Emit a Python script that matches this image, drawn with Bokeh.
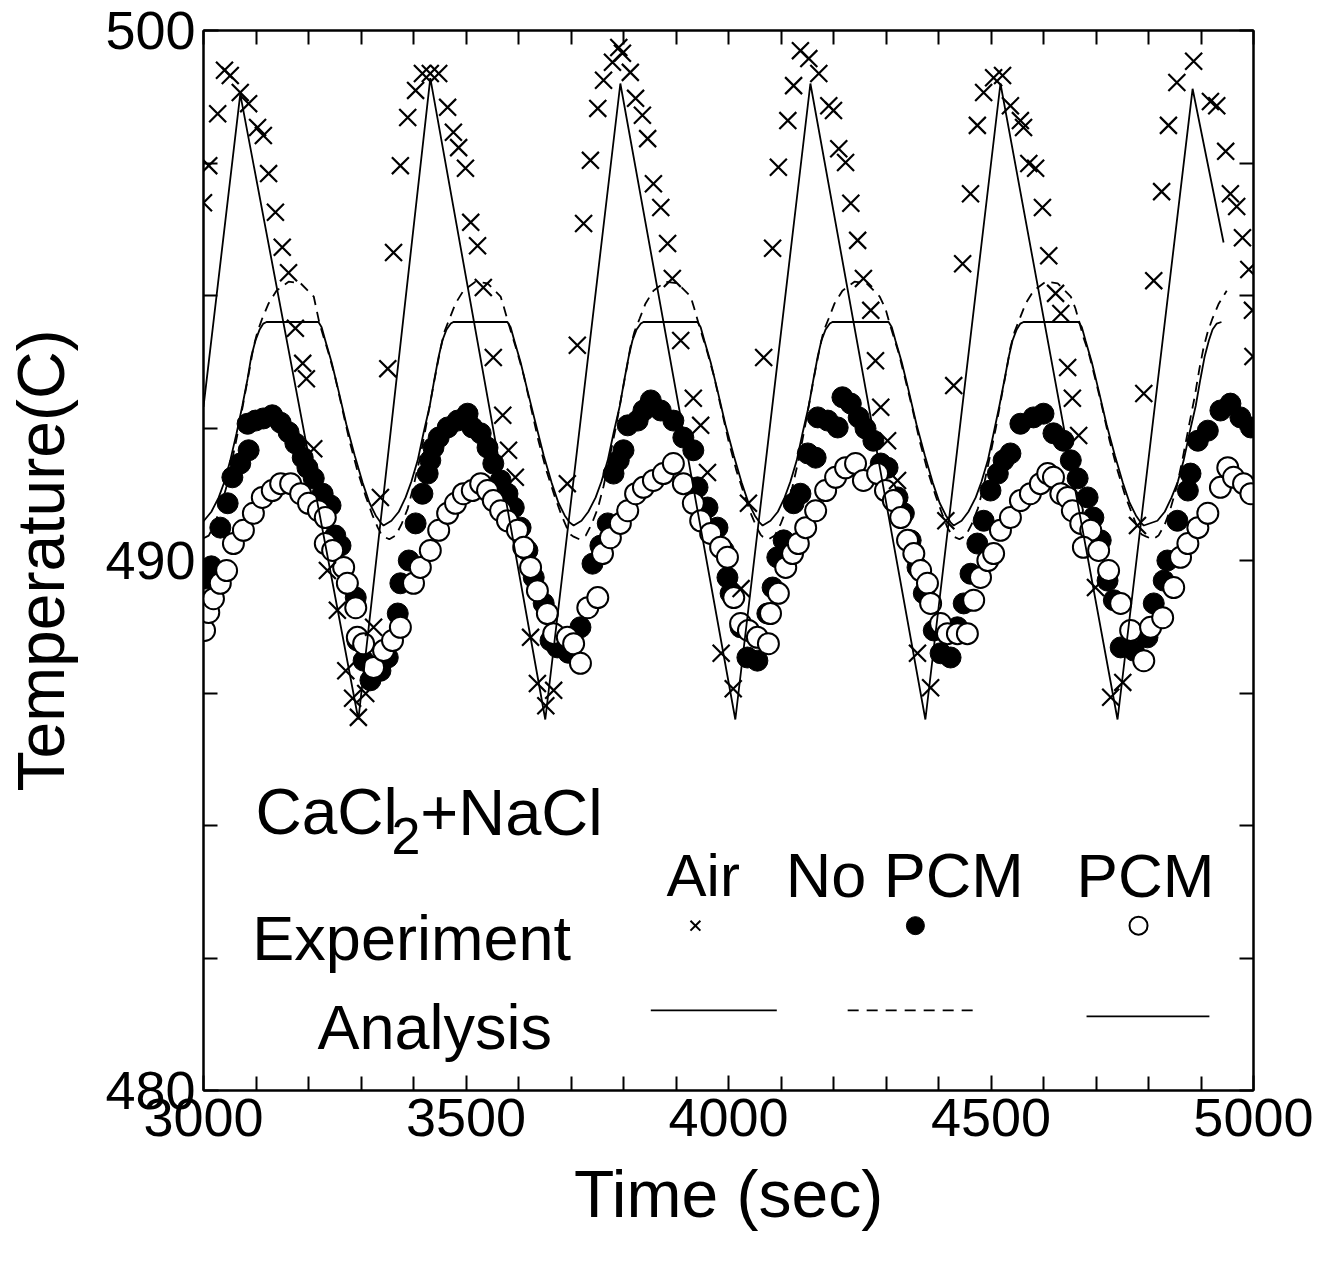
from bokeh.plotting import figure
from bokeh.models import Range1d, LinearAxis, FixedTicker, Label
from bokeh.embed import file_html
from bokeh.resources import INLINE

# ---------------- data ----------------
air_exp_t = [3000, 3010, 3027, 3040, 3051, 3070, 3086, 3103, 3114, 3124, 3137, 3150, 3162, 3175, 3189, 3196, 3210,
             3236, 3255, 3271, 3284, 3295, 3309, 3324, 3337, 3351,
             3362, 3375, 3389, 3404, 3417, 3432, 3448, 3465, 3476, 3486, 3499, 3509, 3522, 3533, 3552, 3570, 3581, 3594,
             3623, 3636, 3652, 3667, 3693, 3712,
             3724, 3737, 3751, 3762, 3779, 3791, 3798, 3813, 3823, 3836, 3846, 3857, 3871, 3884, 3893, 3909, 3933, 3947, 3960,
             3986, 4009, 4024, 4038,
             4067, 4084, 4095, 4113, 4124, 4137, 4153, 4172, 4191, 4200, 4210, 4223, 4233, 4246, 4257, 4271, 4280, 4290, 4303, 4322,
             4360, 4385, 4414,
             4429, 4446, 4461, 4474, 4486, 4505, 4522, 4537, 4556, 4562, 4572, 4585, 4598, 4610, 4623, 4633, 4646, 4655, 4667,
             4699, 4728, 4751, 4779, 4791,
             4810, 4825, 4838, 4854, 4886, 4918, 4930, 4947, 4956, 4968, 4979, 4991, 4998, 4999]
air_exp_T = [496.75, 497.45, 498.43, 499.25, 499.15, 498.83, 498.62, 498.17, 498.02, 497.30, 496.57, 495.91, 495.43, 494.38, 493.72, 493.43, 492.11,
             489.81, 489.06, 487.92, 487.40, 487.04, 487.49, 488.74, 491.19, 493.62,
             495.81, 497.45, 498.36, 498.87, 499.19, 499.19, 499.19, 498.55, 498.08, 497.79, 497.40, 496.38, 495.94, 495.15, 493.83, 492.74, 492.08, 491.57,
             488.55, 487.68, 487.26, 487.55, 491.45, 494.06,
             496.36, 497.55, 498.53, 499.06, 499.40, 499.68, 499.57, 499.21, 498.72, 498.40, 497.96, 497.11, 496.66, 495.98, 495.32, 494.15, 493.06, 492.55, 491.66,
             488.25, 487.58, 489.47, 491.08,
             493.83, 495.89, 497.42, 498.30, 498.96, 499.62, 499.47, 499.19, 498.58, 498.49, 497.77, 497.51, 496.74, 496.04, 495.32, 494.72, 493.77, 492.89, 492.26, 491.51,
             488.25, 487.60, 490.75,
             493.30, 495.60, 496.92, 498.21, 498.83, 499.11, 499.15, 498.58, 498.30, 498.17, 497.49, 497.40, 496.66, 495.75, 495.04, 494.66, 493.64, 493.06, 492.36,
             489.49, 487.42, 487.70, 490.66, 493.15,
             495.28, 496.96, 498.21, 499.02, 499.42, 498.66, 498.58, 497.72, 496.92, 496.68, 496.09, 495.49, 494.72, 493.85]

nopcm_exp_t = [3004, 3015, 3032, 3046, 3055, 3070, 3086, 3084, 3099, 3114, 3131, 3147, 3162, 3175, 3189, 3198, 3210, 3227, 3242, 3251,
               3261, 3274, 3290, 3293, 3305, 3318, 3337, 3351, 3370,
               3375, 3391, 3404, 3417, 3427, 3432, 3438, 3448, 3465, 3484, 3503, 3512, 3528, 3541, 3552, 3566, 3579, 3591, 3604, 3617,
               3629, 3648, 3661, 3674, 3695, 3718, 3741, 3756, 3770,
               3781, 3791, 3800, 3808, 3827, 3838, 3852, 3871, 3895, 3914, 3933, 3941, 3960, 3979, 3991, 3998, 4004, 4023, 4036, 4055,
               4074, 4084, 4093, 4105,
               4124, 4137, 4151, 4166, 4170, 4189, 4208, 4217, 4233, 4248, 4261, 4276, 4290, 4303, 4322, 4334, 4347, 4360, 4372, 4391,
               4404, 4423, 4436, 4448, 4461, 4474,
               4486, 4499, 4513, 4524, 4537, 4556, 4581, 4600, 4619, 4638, 4652, 4665, 4684, 4695, 4709, 4722, 4734, 4747, 4772, 4798,
               4810, 4829, 4836,
               4855, 4875, 4880, 4894, 4913, 4937, 4956, 4975, 4995]
nopcm_exp_T = [489.66, 489.89, 490.62, 491.08, 491.57, 491.83, 492.08, 492.58, 492.64, 492.68, 492.74, 492.60, 492.42, 492.21, 491.94, 491.75, 491.55, 491.26, 491.04, 490.47,
               490.28, 489.57, 489.30, 488.49, 488.11, 487.74, 487.92, 488.17, 489.00,
               489.57, 490.00, 490.70, 491.26, 491.64, 491.89, 492.13, 492.32, 492.51, 492.64, 492.77, 492.51, 492.40, 492.13, 491.83, 491.51, 491.26, 491.00, 490.62, 490.19,
               489.68, 489.19, 488.49, 488.36, 488.26, 488.74, 489.94, 490.28, 490.70,
               491.64, 491.89, 492.08, 492.55, 492.64, 492.83, 493.02, 492.83, 492.64, 492.32, 492.08, 491.38, 491.00, 490.62, 490.19, 489.68, 489.38, 488.74, 488.17, 488.11,
               489.00, 489.49, 490.06, 490.38,
               491.08, 491.26, 492.02, 491.94, 492.70, 492.64, 492.51, 493.08, 492.96, 492.70, 492.49, 492.26, 491.83, 491.75, 491.19, 490.89, 490.38, 489.87, 489.38, 488.68,
               488.25, 488.17, 488.74, 489.19, 489.75, 490.32,
               490.75, 491.32, 491.64, 491.89, 492.02, 492.58, 492.70, 492.77, 492.40, 492.26, 491.89, 491.55, 491.19, 490.81, 490.38, 489.62, 489.25, 488.36, 488.30, 488.55,
               489.19, 489.62, 490.00,
               490.75, 491.32, 491.64, 492.26, 492.45, 492.83, 492.96, 492.70, 492.51]

pcm_exp_t = [3002, 3010, 3019, 3032, 3044, 3057, 3076, 3095, 3112, 3131, 3147, 3166, 3185, 3200, 3219, 3232, 3232, 3246, 3267, 3274,
             3290, 3293, 3305, 3324, 3343, 3360, 3375,
             3400, 3413, 3432, 3448, 3465, 3480, 3495, 3512, 3528, 3541, 3552, 3566, 3579, 3598, 3610, 3623, 3636, 3655, 3667, 3693,
             3705, 3718, 3732, 3751,
             3760, 3775, 3794, 3808, 3823, 3838, 3857, 3876, 3895, 3914, 3933, 3947, 3966, 3985, 3998, 4010, 4023, 4038, 4055, 4076,
             4080, 4095, 4109, 4122, 4133, 4147, 4166, 4185, 4204, 4223, 4242, 4257, 4284, 4299, 4314, 4328, 4341, 4353, 4366, 4379,
             4385, 4404, 4417, 4436, 4455,
             4467, 4480, 4494, 4505, 4518, 4537, 4556, 4575, 4594, 4608, 4619, 4633, 4646, 4655, 4671, 4690, 4676, 4705, 4724, 4747,
             4766, 4791,
             4804, 4827, 4848, 4861, 4875, 4894, 4913, 4937, 4951, 4962, 4981, 4995]
pcm_exp_T = [488.68, 489.02, 489.28, 489.57, 489.81, 490.32, 490.57, 490.89, 491.19, 491.32, 491.45, 491.45, 491.26, 491.08, 490.94, 490.81, 490.32, 490.19, 489.87, 489.57,
             489.11, 488.55, 488.43, 487.98, 488.30, 488.49, 488.74,
             489.57, 489.87, 490.19, 490.57, 490.89, 491.08, 491.26, 491.32, 491.45, 491.32, 491.13, 490.94, 490.75, 490.57, 490.25, 489.87, 489.43, 489.00, 488.62, 488.55,
             488.43, 488.06, 489.11, 489.30,
             490.13, 490.43, 490.70, 490.94, 491.26, 491.38, 491.51, 491.64, 491.83, 491.45, 491.08, 490.75, 490.51, 490.25, 490.06, 489.30, 488.81, 488.68, 488.55, 488.43,
             489.00, 489.38, 489.87, 490.13, 490.32, 490.62, 490.94, 491.32, 491.57, 491.75, 491.83, 491.51, 491.64, 491.32, 491.13, 490.81, 490.38, 490.13, 489.81, 489.57,
             489.19, 488.81, 488.62, 488.62, 488.62,
             489.25, 489.68, 490.00, 490.13, 490.57, 490.81, 491.13, 491.26, 491.45, 491.64, 491.57, 491.26, 491.19, 490.94, 490.70, 490.57, 490.25, 490.19, 489.81, 489.19,
             488.68, 488.11,
             488.74, 488.92, 489.49, 490.06, 490.32, 490.62, 490.89, 491.38, 491.75, 491.57, 491.45, 491.26]

air_ana_t = [3000, 3070, 3295, 3432, 3651, 3794, 4013, 4156, 4375, 4518, 4741, 4884, 4943]
air_ana_T = [492.9, 498.8, 487.0, 499.1, 487.0, 499.0, 487.0, 499.0, 487.0, 499.0, 487.0, 498.9, 496.0]

pcm_ana_t = [3000, 3015, 3029, 3040, 3051, 3063, 3074, 3084, 3091, 3099, 3107, 3114, 3120,
             3219, 3225, 3232, 3244, 3257, 3272, 3288, 3303, 3316, 3328, 3337, 3343,
             3358, 3372, 3385, 3396, 3408, 3419, 3431, 3440, 3448, 3455, 3463, 3471, 3476,
             3579, 3585, 3592, 3604, 3617, 3633, 3648, 3663, 3676, 3688, 3697, 3705,
             3720, 3733, 3747, 3758, 3770, 3781, 3793, 3802, 3810, 3817, 3825, 3833, 3838,
             3941, 3947, 3954, 3966, 3979, 3994, 4010, 4025, 4038, 4050, 4059, 4065,
             4080, 4094, 4107, 4118, 4130, 4141, 4153, 4162, 4170, 4177, 4185, 4193, 4198,
             4305, 4311, 4318, 4330, 4343, 4358, 4374, 4389, 4402, 4414, 4423, 4429,
             4444, 4457, 4471, 4482, 4494, 4505, 4516, 4526, 4534, 4541, 4549, 4556, 4562,
             4667, 4673, 4680, 4692, 4705, 4720, 4736, 4751, 4764, 4776, 4785, 4791,
             4817, 4831, 4844, 4856, 4867, 4878, 4890, 4899, 4907, 4915, 4922, 4930, 4939]
pcm_ana_T = [490.74, 490.92, 491.19, 491.49, 491.89, 492.40, 492.92, 493.43, 493.85, 494.15, 494.36, 494.47, 494.50,
             494.50, 494.40, 494.15, 493.74, 493.21, 492.57, 491.98, 491.47, 491.09, 490.85, 490.72, 490.66,
             490.75, 490.92, 491.19, 491.49, 491.89, 492.40, 492.92, 493.43, 493.85, 494.15, 494.36, 494.47, 494.50,
             494.50, 494.40, 494.15, 493.74, 493.21, 492.57, 491.98, 491.47, 491.09, 490.85, 490.72, 490.66,
             490.75, 490.92, 491.19, 491.49, 491.89, 492.40, 492.92, 493.43, 493.85, 494.15, 494.36, 494.47, 494.50,
             494.50, 494.40, 494.15, 493.74, 493.21, 492.57, 491.98, 491.47, 491.09, 490.85, 490.72, 490.66,
             490.75, 490.92, 491.19, 491.49, 491.89, 492.40, 492.92, 493.43, 493.85, 494.15, 494.36, 494.47, 494.50,
             494.50, 494.40, 494.15, 493.74, 493.21, 492.57, 491.98, 491.47, 491.09, 490.85, 490.72, 490.66,
             490.75, 490.92, 491.19, 491.49, 491.89, 492.40, 492.92, 493.43, 493.85, 494.15, 494.36, 494.47, 494.50,
             494.50, 494.40, 494.15, 493.74, 493.21, 492.57, 491.98, 491.47, 491.09, 490.85, 490.72, 490.66,
             490.75, 490.92, 491.19, 491.49, 491.89, 492.40, 492.92, 493.43, 493.85, 494.15, 494.36, 494.47, 494.50]

nopcm_ana_t = [3000, 3010, 3021, 3032, 3044, 3055, 3067, 3078, 3088, 3095, 3103, 3112, 3124, 3139, 3162, 3185, 3210,
               3221, 3229, 3238, 3250, 3263, 3278, 3293, 3309, 3322, 3332, 3339,
               3343, 3354, 3366, 3377, 3389, 3400, 3412, 3423, 3434, 3444, 3452, 3459, 3469, 3480, 3495, 3518, 3541, 3566,
               3573, 3581, 3589, 3598, 3610, 3623, 3638, 3653, 3669, 3682, 3692, 3699,
               3705, 3716, 3728, 3739, 3751, 3762, 3773, 3785, 3796, 3806, 3813, 3821, 3831, 3842, 3857, 3880, 3903, 3928,
               3935, 3943, 3951, 3960, 3972, 3985, 4000, 4015, 4031, 4044, 4054, 4061,
               4065, 4076, 4088, 4099, 4111, 4122, 4134, 4145, 4156, 4166, 4174, 4181, 4191, 4202, 4217, 4240, 4263, 4288,
               4299, 4307, 4315, 4324, 4335, 4349, 4364, 4379, 4395, 4408, 4417, 4425,
               4429, 4440, 4452, 4463, 4475, 4486, 4497, 4509, 4520, 4530, 4537, 4545, 4555, 4566, 4581, 4604, 4627, 4652,
               4661, 4669, 4676, 4686, 4697, 4711, 4726, 4741, 4756, 4770, 4779, 4787,
               4796, 4808, 4819, 4831, 4842, 4854, 4865, 4876, 4888, 4897, 4905, 4913, 4922, 4934, 4949]
nopcm_ana_T = [490.42, 490.47, 490.68, 490.98, 491.40, 491.92, 492.49, 493.09, 493.62, 494.02, 494.32, 494.57, 494.85, 495.09, 495.26, 495.23, 494.98,
               494.47, 494.21, 493.92, 493.49, 492.92, 492.26, 491.70, 491.21, 490.85, 490.62, 490.49,
               490.45, 490.40, 490.47, 490.68, 490.98, 491.40, 491.92, 492.49, 493.09, 493.62, 494.02, 494.32, 494.57, 494.85, 495.09, 495.26, 495.23, 494.98,
               494.75, 494.47, 494.21, 493.92, 493.49, 492.92, 492.26, 491.70, 491.21, 490.85, 490.62, 490.49,
               490.45, 490.40, 490.47, 490.68, 490.98, 491.40, 491.92, 492.49, 493.09, 493.62, 494.02, 494.32, 494.57, 494.85, 495.09, 495.26, 495.23, 494.98,
               494.75, 494.47, 494.21, 493.92, 493.49, 492.92, 492.26, 491.70, 491.21, 490.85, 490.62, 490.49,
               490.45, 490.40, 490.47, 490.68, 490.98, 491.40, 491.92, 492.49, 493.09, 493.62, 494.02, 494.32, 494.57, 494.85, 495.09, 495.26, 495.23, 494.98,
               494.75, 494.47, 494.21, 493.92, 493.49, 492.92, 492.26, 491.70, 491.21, 490.85, 490.62, 490.49,
               490.45, 490.40, 490.47, 490.68, 490.98, 491.40, 491.92, 492.49, 493.09, 493.62, 494.02, 494.32, 494.57, 494.85, 495.09, 495.26, 495.23, 494.98,
               494.75, 494.47, 494.21, 493.92, 493.49, 492.92, 492.26, 491.70, 491.21, 490.85, 490.62, 490.49,
               490.45, 490.40, 490.47, 490.68, 490.98, 491.40, 491.92, 492.49, 493.09, 493.62, 494.02, 494.32, 494.57, 494.85, 495.09]

x_major = [3000, 3500, 4000, 4500, 5000]
x_minor = [3100, 3200, 3300, 3400, 3600, 3700, 3800, 3900, 4100, 4200, 4300, 4400, 4600, 4700, 4800, 4900]
y_major = [480, 490, 500]
y_minor = [482.5, 485, 487.5, 492.5, 495, 497.5]

FONT = "Liberation Sans"

# ---------------- figure ----------------
p = figure(width=1313, height=1255, x_range=Range1d(3000, 5000), y_range=Range1d(480, 500),
           output_backend="svg", toolbar_location=None,
           min_border_left=203, min_border_right=60, min_border_top=30, min_border_bottom=165,
           x_axis_label="Time (sec)", y_axis_label="Temperature(C)")
p.grid.visible = False
p.outline_line_color = "black"
p.outline_line_width = 2
p.background_fill_color = "white"
p.border_fill_color = "white"

for ax in (p.xaxis[0], p.yaxis[0]):
    ax.axis_line_width = 2
    ax.major_tick_in = 15
    ax.major_tick_out = 0
    ax.minor_tick_in = 14
    ax.minor_tick_out = 0
    ax.major_tick_line_width = 2
    ax.minor_tick_line_width = 2
    ax.major_label_text_font = FONT
    ax.major_label_text_font_size = "54px"
    ax.major_label_text_color = "black"
    ax.axis_label_text_font = FONT
    ax.axis_label_text_font_style = "normal"
    ax.axis_label_text_color = "black"
    ax.major_label_standoff = 8

p.xaxis[0].ticker = FixedTicker(ticks=x_major, minor_ticks=x_minor)
p.yaxis[0].ticker = FixedTicker(ticks=y_major, minor_ticks=y_minor)
p.xaxis[0].axis_label_text_font_size = "66px"
p.yaxis[0].axis_label_text_font_size = "66px"
p.xaxis[0].axis_label_standoff = 18
p.yaxis[0].axis_label_standoff = 24

top = LinearAxis(ticker=FixedTicker(ticks=[], minor_ticks=x_major + x_minor),
                 axis_line_width=2, minor_tick_in=14, minor_tick_out=0, minor_tick_line_width=2)
right = LinearAxis(ticker=FixedTicker(ticks=[], minor_ticks=y_major + y_minor),
                   axis_line_width=2, minor_tick_in=14, minor_tick_out=0, minor_tick_line_width=2)
p.add_layout(top, "above")
p.add_layout(right, "right")

# experiments
p.scatter(nopcm_exp_t, nopcm_exp_T, marker="circle", size=21, fill_color="black", line_color="black", line_width=1)
p.scatter(pcm_exp_t, pcm_exp_T, marker="circle", size=21, fill_color="white", line_color="black", line_width=2)

# analysis
p.line(air_ana_t, air_ana_T, line_color="black", line_width=1.8)
p.line(pcm_ana_t, pcm_ana_T, line_color="black", line_width=1.8)
p.line(nopcm_ana_t, nopcm_ana_T, line_color="black", line_width=1.8, line_dash="10 7")

p.scatter(air_exp_t, air_exp_T, marker="x", size=24, line_color="black", line_width=2.2)

# ---------------- in-plot legend block ----------------
def lab(x, y, text, size="63px"):
    p.add_layout(Label(x=x, y=y, text=text, text_font=FONT, text_font_size=size,
                       text_color="black", text_baseline="alphabetic", text_align="left"))

lab(3099, 485.25, "CaCl", size="64px")
lab(3358, 484.80, "2", size="52px")
lab(3413, 485.25, "+NaCl", size="65px")
lab(3882, 484.06, "Air", size="60px")
lab(4109, 484.06, "No PCM")
lab(4663, 484.06, "PCM", size="62px")
lab(3093, 482.87, "Experiment")
lab(3217, 481.19, "Analysis")

p.scatter([3937], [483.11], marker="x", size=14, line_color="black", line_width=2)
p.scatter([4356], [483.11], marker="circle", size=18, fill_color="black", line_color="black")
p.scatter([4781], [483.11], marker="circle", size=18, fill_color="white", line_color="black", line_width=2)
p.line([3852, 4092], [481.51, 481.51], line_color="black", line_width=1.8)
p.line([4227, 4473], [481.51, 481.51], line_color="black", line_width=1.8, line_dash="11 8")
p.line([4682, 4916], [481.40, 481.40], line_color="black", line_width=1.8)

open("out.html", "w").write(file_html(p, INLINE))
